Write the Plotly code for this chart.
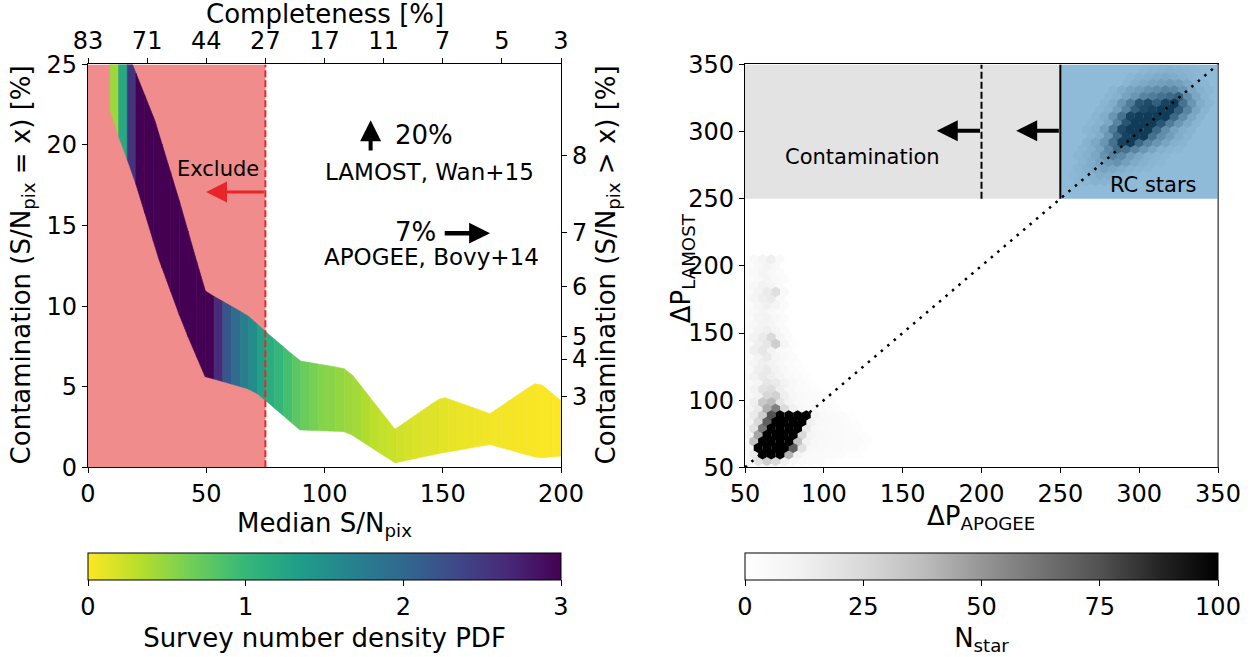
import numpy as np
import plotly.graph_objects as go
from plotly.colors import sequential, hex_to_rgb

FONT = "DejaVu Sans"
W, H = 1259, 657

# ---------------- left panel: contamination versus median S/N ----------------
# upper and lower limits of the contamination band (percent) versus median S/N
upper_sn = [9.3, 18.8, 28.3, 38.9, 49.5, 53.0, 67.5, 74.8, 89.6, 108.0, 111.5,
            129.8, 148.1, 151.0, 170.0, 188.7, 192.1, 200.0]
upper_cont = [28.5, 25.0, 21.5, 16.4, 10.95, 10.63, 9.42, 8.46, 6.6, 6.15, 5.79,
              2.36, 4.22, 4.32, 3.33, 5.19, 5.1, 4.13]
lower_sn = [9.3, 12.8, 16.6, 20.2, 30.0, 40.0, 49.5, 53.0, 67.5, 72.0, 74.8, 89.6,
            108.0, 111.5, 129.8, 148.1, 170.0, 188.7, 192.1, 200.0]
lower_cont = [22.2, 20.6, 19.1, 17.6, 12.9, 8.9, 5.63, 5.49, 4.88, 4.54, 4.18, 2.32,
              2.22, 2.02, 0.28, 0.85, 1.41, 0.65, 0.6, 0.7]

# survey number density PDF on a regular S/N grid (one value per grid cell)
pdf_sn_edges = np.linspace(9.3, 200.0, 53)
pdf_values = [0.45, 1.2, 2.55,
              3.0, 3.0, 3.0, 3.0, 3.0, 3.0, 3.0, 3.0, 3.0,
              2.64, 2.19, 1.95, 1.71, 1.53, 1.29, 1.14, 1.02, 0.9, 0.78,
              0.69, 0.63, 0.57, 0.54, 0.5, 0.45, 0.42, 0.36, 0.3, 0.27,
              0.24, 0.21, 0.18, 0.16, 0.15, 0.14, 0.12, 0.1, 0.09, 0.08,
              0.07, 0.06, 0.05, 0.04, 0.04, 0.03, 0.03, 0.02, 0.02, 0.01]

sn_cut = 75.0                     # excluded below this median S/N
exclude_arrow_tip = 49.9

completeness_at = [0, 25, 50, 75, 100, 125, 150, 175, 200]
completeness_labels = ["83", "71", "44", "27", "17", "11", "7", "5", "3"]

cum_cont_at = [19.37, 14.56, 11.23, 8.14, 6.72, 4.39]
cum_cont_labels = ["8", "7", "6", "5", "4", "3"]

# literature values of the contamination
lamost_pct, lamost_ref = 20, "LAMOST, Wan+15"
apogee_pct, apogee_ref = 7, "APOGEE, Bovy+14"

# ---------------- right panel: period spacing comparison ----------------
dp_min, dp_max = 50, 350
rc_cut = 250          # RC selection threshold on both period spacings
alt_cut = 200         # alternative APOGEE threshold
HEX_NX = 54           # hexagon columns across the range
HEX_NROW = 62         # hexagon rows (two interleaved lattices)

# (row, first column, star counts along the row)
hex_rows_lower = [
    (0, 1, [4, 8, 8, 5, 3]),
    (1, 0, [6, 20, 30, 25, 12, 6, 4, 3, 3, 2]),
    (2, 0, [5, 15, 150, 160, 150, 40, 10, 5, 4, 4, 3, 3, 2, 2]),
    (3, 0, [6, 100, 160, 170, 140, 70, 20, 6, 5, 4, 4, 3, 3, 2]),
    (4, 0, [5, 35, 130, 170, 180, 120, 35, 10, 6, 5, 4, 4, 3, 3, 2]),
    (5, 0, [8, 45, 140, 180, 170, 130, 25, 8, 6, 5, 4, 3, 3, 2]),
    (6, 0, [6, 20, 60, 150, 170, 150, 110, 15, 6, 5, 4, 4, 3, 2]),
    (7, 0, [8, 25, 70, 120, 150, 140, 110, 12, 6, 5, 4, 3, 2]),
    (8, 0, [6, 15, 30, 75, 110, 130, 120, 100, 8, 5, 4, 3, 2]),
    (9, 0, [8, 16, 42, 58, 24, 12, 6, 5, 4, 3, 2]),
    (10, 0, [6, 13, 32, 38, 18, 9, 5, 4, 3, 3, 2]),
    (11, 0, [6, 10, 26, 28, 13, 7, 4, 3, 3, 2]),
    (12, 0, [5, 10, 20, 23, 13, 7, 4, 3, 2]),
    (13, 0, [5, 8, 18, 16, 10, 6, 3, 2]),
    (14, 0, [5, 10, 16, 13, 8, 5, 3, 2]),
    (15, 0, [4, 13, 16, 10, 6, 3, 2]),
    (16, 0, [4, 8, 13, 10, 6, 3, 2]),
    (17, 0, [4, 10, 16, 8, 5, 3]),
    (18, 0, [5, 13, 18, 10, 5, 3]),
    (19, 0, [5, 13, 18, 30, 8, 2]),
    (20, 0, [4, 10, 16, 24, 8, 3]),
    (21, 0, [4, 10, 13, 8, 4]),
    (22, 0, [4, 6, 10, 8, 4]),
    (23, 0, [3, 8, 10, 6, 3]),
    (24, 0, [4, 6, 9, 6, 3]),
    (25, 0, [3, 8, 12, 8, 3]),
    (26, 0, [4, 8, 13, 15, 5]),
    (27, 0, [4, 10, 15, 22, 5]),
    (28, 0, [3, 6, 10, 8, 4]),
    (29, 0, [3, 5, 8, 5, 3]),
    (30, 0, [3, 5, 8, 6, 3]),
    (31, 0, [3, 6, 9, 5]),
    (32, 1, [5, 8, 13, 5]),
]

hex_rows_rc = [
    (44, 38, [8, 10, 14, 12, 8, 5]),
    (45, 37, [6, 10, 16, 20, 18, 14, 10, 6]),
    (46, 38, [10, 18, 24, 30, 26, 20, 14, 10, 6]),
    (47, 38, [12, 20, 30, 38, 42, 32, 22, 16, 10, 6]),
    (48, 38, [8, 16, 26, 42, 55, 48, 35, 25, 16, 10, 6]),
    (49, 38, [10, 18, 30, 48, 70, 65, 52, 40, 28, 16, 10, 6]),
    (50, 39, [14, 25, 40, 65, 95, 110, 72, 52, 40, 28, 16, 10]),
    (51, 39, [10, 20, 40, 70, 95, 120, 105, 66, 46, 34, 20, 12]),
    (52, 39, [8, 16, 32, 58, 90, 105, 125, 110, 72, 46, 30, 18, 10]),
    (53, 39, [6, 14, 26, 52, 84, 105, 125, 110, 84, 58, 40, 24, 12]),
    (54, 40, [10, 20, 40, 65, 95, 100, 105, 110, 125, 72, 46, 26, 12]),
    (55, 40, [8, 16, 32, 52, 78, 90, 95, 105, 135, 78, 52, 28, 12]),
    (56, 41, [10, 20, 40, 58, 84, 90, 78, 95, 105, 65, 40, 20, 10]),
    (57, 41, [8, 16, 30, 40, 52, 58, 65, 72, 78, 46, 26, 12]),
    (58, 42, [10, 20, 30, 36, 42, 46, 52, 50, 40, 26, 15, 8]),
    (59, 43, [10, 18, 24, 30, 33, 36, 33, 24, 14, 8]),
    (60, 44, [8, 14, 18, 21, 24, 21, 16, 10, 6]),
    (61, 45, [6, 10, 13, 16, 13, 10, 6]),
    (62, 46, [4, 6, 8, 8, 6, 5]),
]

# ---------------- layout geometry (paper fractions) ----------------
L_DOM = [88 / W, 561 / W]
R_DOM = [745 / W, 1218 / W]
Y_DOM = [1 - 479 / H, 1 - 66 / H]


def px_x(p):
    return p / W


def px_y(p):
    return 1 - p / H


# colour helpers
vir = sequential.Viridis
vir_rgb = np.array([hex_to_rgb(c) for c in vir], float)
vir_pos = np.linspace(0, 1, len(vir))
pdf_scale = [[float(p), c] for p, c in zip(vir_pos, vir[::-1])]

greys = sequential.Greys
greys_scale = [[float(p), c] for p, c in zip(np.linspace(0, 1, len(greys)), greys)]


def pdf_colour(v):
    t = 1 - min(max(v / 3.0, 0.0), 1.0)
    rgb = [np.interp(t, vir_pos, vir_rgb[:, k]) for k in range(3)]
    return "rgb(%d,%d,%d)" % tuple(int(round(c)) for c in rgb)


def clip_line(xs, ys, a, b):
    xs = np.asarray(xs, float)
    ys = np.asarray(ys, float)
    inner = (xs > a) & (xs < b)
    px = np.concatenate([[a], xs[inner], [b]])
    py = np.concatenate([[np.interp(a, xs, ys)], ys[inner], [np.interp(b, xs, ys)]])
    return px, py


fig = go.Figure()

# band, split into S/N cells coloured by the PDF
for a, b, v in zip(pdf_sn_edges[:-1], pdf_sn_edges[1:], pdf_values):
    ux, uy = clip_line(upper_sn, upper_cont, a, b)
    lx, ly = clip_line(lower_sn, lower_cont, a, b)
    bx = np.concatenate([ux, lx[::-1], ux[:1]])
    by = np.concatenate([uy, ly[::-1], uy[:1]])
    col = pdf_colour(v)
    fig.add_trace(go.Scatter(
        x=bx, y=by, mode="lines", fill="toself", fillcolor=col,
        line=dict(color=col, width=0.6), hoverinfo="skip", showlegend=False,
        xaxis="x", yaxis="y"))


def hbar(centre, length, ticks, title):
    return dict(orientation="h", x=centre, xanchor="center", len=length,
                lenmode="fraction", y=px_y(567), yanchor="top",
                thickness=27, thicknessmode="pixels", xpad=0, ypad=0,
                outlinewidth=1, outlinecolor="black",
                tickvals=ticks, ticks="outside", ticklen=6, tickwidth=1,
                tickcolor="black", tickfont=dict(size=24, color="black", family=FONT),
                title=dict(text=title, side="bottom",
                           font=dict(size=26, color="black", family=FONT)))


# colour bar of the PDF
fig.add_trace(go.Scatter(
    x=[None], y=[None], mode="markers", xaxis="x", yaxis="y", showlegend=False,
    hoverinfo="skip",
    marker=dict(size=0, color=[0], cmin=0, cmax=3, colorscale=pdf_scale,
                showscale=True,
                colorbar=hbar((L_DOM[0] + L_DOM[1]) / 2, L_DOM[1] - L_DOM[0],
                              [0, 1, 2, 3], "Survey number density PDF"))))

# keep secondary axes alive
fig.add_trace(go.Scatter(x=[None], y=[None], xaxis="x2", yaxis="y", showlegend=False,
                         hoverinfo="skip"))
fig.add_trace(go.Scatter(x=[None], y=[None], xaxis="x", yaxis="y2", showlegend=False,
                         hoverinfo="skip"))


# hexbin of period spacings
def hex_cells(rows):
    xs, ys, ns = [], [], []
    for r, i0, counts in rows:
        for k, n in enumerate(counts):
            if n <= 0:
                continue
            i = i0 + k
            xs.append(dp_min + (i + 0.5 * (r % 2)) * (dp_max - dp_min) / HEX_NX)
            ys.append(dp_min + r * (dp_max - dp_min) / HEX_NROW)
            ns.append(n)
    return xs, ys, ns


hx, hy, hn = hex_cells(hex_rows_lower + hex_rows_rc)
order = np.argsort(hn, kind="stable")
hx = [hx[k] for k in order]
hy = [hy[k] for k in order]
hn = [hn[k] for k in order]

fig.add_trace(go.Scatter(
    x=hx, y=hy, mode="markers", xaxis="x3", yaxis="y3", showlegend=False,
    hoverinfo="skip",
    marker=dict(symbol="hexagon", size=10.2, color=hn, cmin=0, cmax=100,
                colorscale=greys_scale, line=dict(width=0), showscale=True,
                colorbar=hbar((R_DOM[0] + R_DOM[1]) / 2, R_DOM[1] - R_DOM[0],
                              [0, 25, 50, 75, 100], "N<sub>star</sub>"))))

# ---------------- shapes ----------------
shapes = [
    # excluded low-S/N region
    dict(type="rect", xref="x", yref="y", x0=0, x1=sn_cut, y0=0, y1=25,
         fillcolor="#f08c8c", line=dict(width=0), layer="below"),
    dict(type="line", xref="x", yref="y", x0=sn_cut, x1=sn_cut, y0=0, y1=25,
         line=dict(color="#e8262a", width=2, dash="7px,3px"), layer="above"),
    # contamination and RC regions
    dict(type="rect", xref="x3", yref="y3", x0=dp_min, x1=rc_cut, y0=rc_cut, y1=dp_max,
         fillcolor="rgba(128,128,128,0.22)", line=dict(width=0), layer="above"),
    dict(type="rect", xref="x3", yref="y3", x0=rc_cut, x1=dp_max, y0=rc_cut, y1=dp_max,
         fillcolor="rgba(31,119,180,0.5)", line=dict(width=0), layer="above"),
    dict(type="line", xref="x3", yref="y3", x0=rc_cut, x1=rc_cut, y0=rc_cut, y1=dp_max,
         line=dict(color="black", width=2), layer="above"),
    dict(type="line", xref="x3", yref="y3", x0=alt_cut, x1=alt_cut, y0=rc_cut, y1=dp_max,
         line=dict(color="black", width=2, dash="7px,3px"), layer="above"),
    dict(type="line", xref="x3", yref="y3", x0=dp_min, x1=dp_max, y0=dp_min, y1=dp_max,
         line=dict(color="black", width=2.5, dash="2.5px,6px"), layer="above"),
    dict(type="line", xref="paper", yref="paper", x0=R_DOM[1], x1=R_DOM[1],
         y0=Y_DOM[0], y1=Y_DOM[1], line=dict(color="#808080", width=1.5), layer="above"),
]


# ---------------- annotations ----------------
def txt(x, y, text, size, xref="x", yref="y", angle=0, xanchor="center"):
    return dict(x=x, y=y, xref=xref, yref=yref, text=text, showarrow=False,
                textangle=angle, xanchor=xanchor, yanchor="middle",
                font=dict(size=size, color="black", family=FONT))


def arrow(x, y, ax, ay, xref, yref, colour, width, size):
    return dict(x=x, y=y, ax=ax, ay=ay, xref=xref, yref=yref, axref=xref, ayref=yref,
                text="", showarrow=True, arrowhead=2, arrowsize=size,
                arrowwidth=width, arrowcolor=colour, standoff=0)


annotations = [
    txt(55.1, 18.5, "Exclude", 21),
    arrow(exclude_arrow_tip, 17.09, sn_cut, 17.09, "x", "y", "#e8262a", 3, 1.4),
    txt(142.2, 20.59, "%d%%" % lamost_pct, 26),
    arrow(119.5, 21.53, 119.5, 19.57, "x", "y", "black", 4, 1.05),
    txt(144.3, 18.33, lamost_ref, 23),
    txt(138.5, 14.62, "%d%%" % apogee_pct, 26),
    arrow(170.0, 14.53, 150.2, 14.53, "x", "y", "black", 4.5, 0.93),
    txt(145.3, 13.03, apogee_ref, 23),
    txt(124.4, 281.2, "Contamination", 21, "x3", "y3"),
    txt(309.4, 259.9, "RC stars", 21, "x3", "y3"),
    arrow(222.0, 300.6, rc_cut, 300.6, "x3", "y3", "black", 4, 1.05),
    arrow(171.6, 300.6, alt_cut, 300.6, "x3", "y3", "black", 4, 1.05),
    # axis titles
    txt((L_DOM[0] + L_DOM[1]) / 2, px_y(14), "Completeness [%]", 26, "paper", "paper"),
    txt((L_DOM[0] + L_DOM[1]) / 2, px_y(538), "Median S/N<sub>pix</sub>", 26, "paper", "paper"),
    txt(px_x(22), px_y(272), "Contamination (S/N<sub>pix</sub> = x) [%]", 26, "paper", "paper", -90),
    txt(px_x(607), px_y(272), "Contamination (S/N<sub>pix</sub> &gt; x) [%]", 26, "paper", "paper", -90),
    txt(px_x(682), px_y(275), "ΔP<sub>LAMOST</sub>", 26, "paper", "paper", -90),
    txt((R_DOM[0] + R_DOM[1]) / 2, px_y(530), "ΔP<sub>APOGEE</sub>", 26, "paper", "paper"),
]

axis_common = dict(showgrid=False, zeroline=False, showline=True, linecolor="black",
                   linewidth=1.2, ticks="outside", ticklen=5, tickwidth=1.2,
                   tickcolor="black", automargin=False,
                   tickfont=dict(size=24, color="black", family=FONT))

fig.update_layout(
    template="none",
    width=W, height=H, autosize=False,
    margin=dict(l=0, r=0, t=0, b=0, pad=0),
    paper_bgcolor="white", plot_bgcolor="white",
    font=dict(family=FONT, color="black"),
    showlegend=False,
    xaxis=dict(domain=L_DOM, range=[0, 200], anchor="y",
               tickvals=[0, 50, 100, 150, 200], **axis_common),
    xaxis2=dict(overlaying="x", side="top", anchor="y", range=[0, 200],
                tickvals=completeness_at, ticktext=completeness_labels, **axis_common),
    yaxis=dict(domain=Y_DOM, range=[0, 25], anchor="x",
               tickvals=[0, 5, 10, 15, 20, 25], **axis_common),
    yaxis2=dict(overlaying="y", side="right", anchor="x", range=[0, 25],
                tickvals=cum_cont_at, ticktext=cum_cont_labels, **axis_common),
    xaxis3=dict(domain=R_DOM, range=[dp_min, dp_max], anchor="y3", mirror=True,
                tickvals=[50, 100, 150, 200, 250, 300, 350], **axis_common),
    yaxis3=dict(domain=Y_DOM, range=[dp_min, dp_max], anchor="x3", mirror=True,
                tickvals=[50, 100, 150, 200, 250, 300, 350], **axis_common),
    shapes=shapes,
    annotations=annotations,
)

fig.write_html("out.html")
